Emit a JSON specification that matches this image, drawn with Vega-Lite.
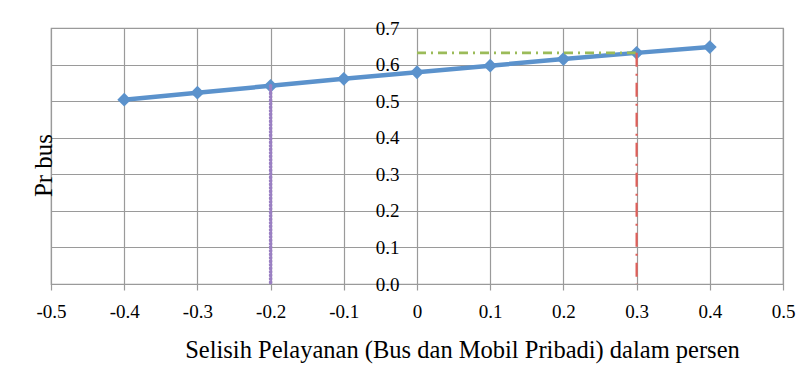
{
  "$schema": "https://vega.github.io/schema/vega-lite/v6.json",
  "width": 732,
  "height": 256,
  "autosize": {"type": "none"},
  "padding": {"left": 51, "top": 28, "right": 16, "bottom": 87},
  "background": "white",
  "config": {
    "view": {"stroke": "#9a9a9a", "strokeWidth": 1.2},
    "axis": {"gridColor": "#9a9a9a", "gridWidth": 1.2, "gridOpacity": 1, "labelFont": "Liberation Serif", "titleFont": "Liberation Serif", "labelColor": "black", "titleColor": "black", "titleFontWeight": "normal"}
  },
  "encoding": {
    "x": {
      "field": "x", "type": "quantitative",
      "scale": {"domain": [-0.5, 0.5], "nice": false, "zero": false},
      "axis": {
        "values": [-0.5, -0.4, -0.3, -0.2, -0.1, 0, 0.1, 0.2, 0.3, 0.4, 0.5],
        "labelExpr": "datum.value == 0 ? '0' : (datum.value < 0 ? '-' : '') + format(abs(datum.value), '.1f')",
        "labelFontSize": 19,
        "labelPadding": 12,
        "tickSize": 6,
        "tickColor": "#9a9a9a",
        "tickWidth": 1.2,
        "domainColor": "#9a9a9a",
        "domainWidth": 1.2,
        "labelFlush": false,
        "labelOverlap": false,
        "title": "Selisih Pelayanan (Bus dan Mobil Pribadi) dalam persen",
        "titleFontSize": 24.5,
        "titleX": 411,
        "titleY": 73,
        "titleAlign": "center",
        "titleBaseline": "alphabetic"
      }
    },
    "y": {
      "field": "y", "type": "quantitative",
      "scale": {"domain": [0, 0.7], "nice": false},
      "axis": {
        "values": [0, 0.1, 0.2, 0.3, 0.4, 0.5, 0.6, 0.7],
        "format": ".1f",
        "offset": -366,
        "domain": false,
        "ticks": false,
        "tickSize": 0,
        "labelPadding": 18,
        "labelFontSize": 19,
        "labelFlush": false,
        "labelOverlap": false,
        "title": "Pr bus",
        "titleFontSize": 25,
        "titleAngle": -90,
        "titleX": -366,
        "titleY": 137,
        "titleAlign": "center",
        "titleBaseline": "alphabetic"
      }
    }
  },
  "layer": [
    {
      "data": {"values": [
        {"x": -0.4, "y": 0.504},
        {"x": -0.3, "y": 0.523},
        {"x": -0.2, "y": 0.542},
        {"x": -0.1, "y": 0.561},
        {"x": 0.0, "y": 0.579},
        {"x": 0.1, "y": 0.597},
        {"x": 0.2, "y": 0.615},
        {"x": 0.3, "y": 0.632},
        {"x": 0.4, "y": 0.648}
      ]},
      "mark": {"type": "line", "color": "#5b92cc", "strokeWidth": 4.5, "point": {"filled": true, "shape": "diamond", "size": 190, "color": "#5b92cc", "opacity": 1}},
      "encoding": {}
    },
    {
      "data": {"values": [{"x": 0.0, "y": 0.632}, {"x": 0.3, "y": 0.632}]},
      "mark": {"type": "line", "color": "#9bbb59", "strokeWidth": 2.8, "strokeDash": [9, 5, 2, 5]},
      "encoding": {}
    },
    {
      "data": {"values": [{"x": 0.3, "y": 0.632}, {"x": 0.3, "y": 0.0}]},
      "mark": {"type": "line", "color": "#e0605a", "strokeWidth": 2.2, "strokeDash": [14, 7, 2, 7]},
      "encoding": {}
    },
    {
      "data": {"values": [{"x": -0.2, "y": 0.542}, {"x": -0.2, "y": 0.0}]},
      "mark": {"type": "line", "color": "#9a7fc2", "strokeWidth": 3.5, "strokeDash": [1, 2.5], "strokeCap": "round"},
      "encoding": {}
    }
  ]
}
